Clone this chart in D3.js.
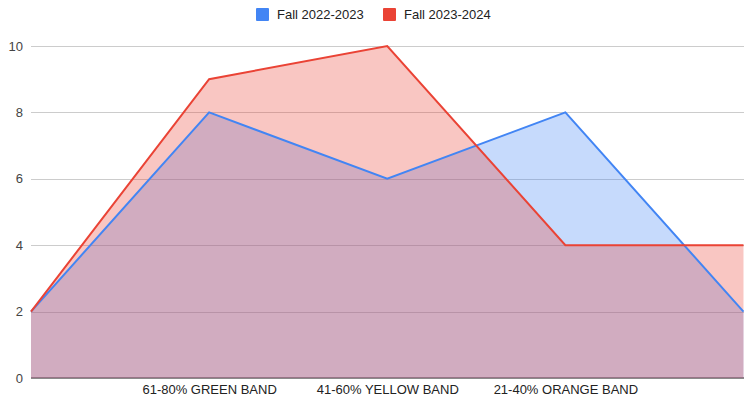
<!DOCTYPE html>
<html>
<head>
<meta charset="utf-8">
<script src="https://cdn.jsdelivr.net/npm/d3@7"></script>
<style>
  html, body { margin: 0; padding: 0; background: #fff; }
  svg { display: block; font-family: "Liberation Sans", Arial, sans-serif; }
</style>
</head>
<body>
<svg id="chart" width="744" height="398"></svg>
<script>
// Band categories along the x axis (end points carry no label)
const categories = ["", "61-80% GREEN BAND", "41-60% YELLOW BAND", "21-40% ORANGE BAND", ""];
const seriesNames = ["Fall 2022-2023", "Fall 2023-2024"];
const fall2022 = [2, 8, 6, 8, 2];
const fall2023 = [2, 9, 10, 4, 4];
const yTicks = [0, 2, 4, 6, 8, 10];
const colors = ["#4285f4", "#ea4335"];

const svg = d3.select("#chart");
const margin = { top: 46, right: 0, bottom: 20, left: 31 };
const width = 744, height = 398;

const x = d3.scalePoint()
  .domain(d3.range(categories.length))
  .range([margin.left, width - margin.right - 0.5]);

const y = d3.scaleLinear()
  .domain([0, 10])
  .range([378, margin.top]);

// Horizontal gridlines
svg.append("g")
  .selectAll("line")
  .data(yTicks.filter(d => d !== 0))
  .join("line")
  .attr("x1", margin.left)
  .attr("x2", width)
  .attr("y1", d => Math.round(y(d)) + 0.5)
  .attr("y2", d => Math.round(y(d)) + 0.5)
  .attr("stroke", "#cccccc")
  .attr("stroke-width", 1);

// Y axis labels
const yAxis = d3.axisLeft(y).tickValues(yTicks).tickSize(0).tickPadding(8);
const yg = svg.append("g")
  .attr("transform", `translate(${margin.left},0)`)
  .call(yAxis);
yg.select(".domain").remove();
yg.selectAll("text")
  .attr("fill", "#444")
  .style("font-size", "13px")
  .style("font-family", "Liberation Sans, Arial, sans-serif");

// Baseline at zero
svg.append("line")
  .attr("x1", margin.left)
  .attr("x2", width)
  .attr("y1", y(0))
  .attr("y2", y(0))
  .attr("stroke", "#8a8a8a")
  .attr("stroke-width", 2);

const series = [fall2022, fall2023];

const area = d3.area()
  .x((d, i) => x(i))
  .y0(y(0))
  .y1(d => y(d));

const line = d3.line()
  .x((d, i) => x(i))
  .y(d => y(d));

// Filled areas, translucent so the overlap blends
svg.append("g")
  .selectAll("path")
  .data(series)
  .join("path")
  .attr("d", d => area(d))
  .attr("fill", (d, i) => colors[i])
  .attr("fill-opacity", 0.3);

// Series outlines
svg.append("g")
  .selectAll("path")
  .data(series)
  .join("path")
  .attr("d", d => line(d))
  .attr("fill", "none")
  .attr("stroke", (d, i) => colors[i])
  .attr("stroke-width", 2)
  .attr("stroke-linejoin", "miter");

// X axis labels
const xAxis = d3.axisBottom(x).tickFormat(i => categories[i]).tickSize(0).tickPadding(7);
const xg = svg.append("g")
  .attr("transform", `translate(0,${y(0)})`)
  .call(xAxis);
xg.select(".domain").remove();
xg.selectAll("text")
  .attr("fill", "#222")
  .style("font-size", "13px")
  .style("font-family", "Liberation Sans, Arial, sans-serif");

// Legend
const legendX = [256, 383];
const legend = svg.append("g")
  .selectAll("g")
  .data(seriesNames)
  .join("g")
  .attr("transform", (d, i) => `translate(${legendX[i]},8)`);
legend.append("rect")
  .attr("width", 13)
  .attr("height", 13)
  .attr("rx", 1)
  .attr("fill", (d, i) => colors[i]);
legend.append("text")
  .attr("x", 21)
  .attr("y", 11)
  .attr("fill", "#222")
  .style("font-size", "13px")
  .text(d => d);
</script>
</body>
</html>
